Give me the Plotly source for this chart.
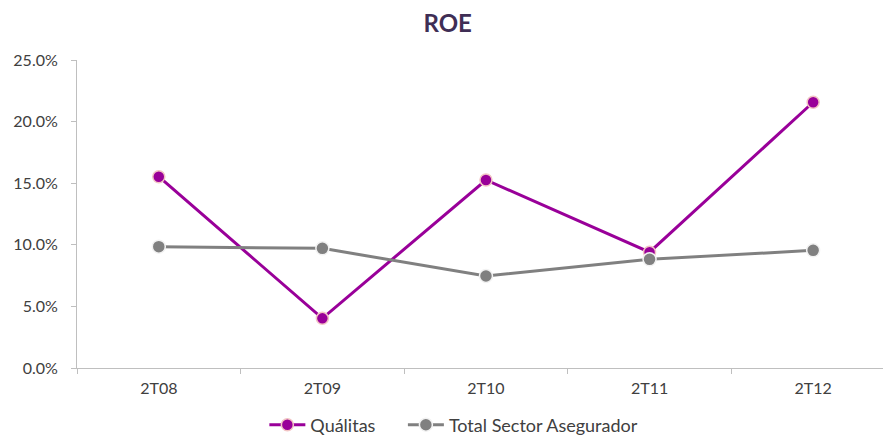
import plotly.graph_objects as go

categories = ["2T08", "2T09", "2T10", "2T11", "2T12"]
qualitas = [15.53, 4.03, 15.26, 9.40, 21.57]
sector = [9.85, 9.71, 7.47, 8.82, 9.55]
y_ticks = [0, 5, 10, 15, 20, 25]
y_tick_labels = ["0.0%", "5.0%", "10.0%", "15.0%", "20.0%", "25.0%"]
series_names = ["Quálitas", "Total Sector Asegurador"]

font = "Lato, 'Open Sans', sans-serif"

fig = go.Figure()
fig.add_trace(go.Scatter(
    x=categories, y=qualitas, name=series_names[0] + "\u2003\u2002", mode="lines+markers",
    line=dict(color="#990099", width=3),
    marker=dict(size=12, color="#990099", line=dict(color="#F2C4C4", width=1.5)),
))
fig.add_trace(go.Scatter(
    x=categories, y=sector, name=series_names[1], mode="lines+markers",
    line=dict(color="#808080", width=3),
    marker=dict(size=13, color="#808080", line=dict(color="#F2F2F2", width=1.5)),
))

fig.update_layout(
    width=883, height=435,
    margin=dict(l=77, r=0, t=60, b=67),
    paper_bgcolor="white", plot_bgcolor="white",
    font=dict(family=font, size=16, color="#404040"),
    title=dict(text="<b>ROE</b>", x=0.507, xref="container", xanchor="center",
               y=0.945, yref="container", yanchor="middle",
               font=dict(family=font, size=24, color="#3F2E55")),
    showlegend=True,
    legend=dict(orientation="h", x=0.514, xref="container", xanchor="center",
                y=0.023, yref="container", yanchor="middle",
                font=dict(size=18, color="#404040"), itemwidth=36,
                traceorder="normal", tracegroupgap=0),
    xaxis=dict(type="category", range=[-0.5, 4.427], showgrid=False,
               showline=True, linecolor="#BFBFBF", linewidth=1,
               ticks="outside", tickson="boundaries", ticklen=5, tickcolor="#BFBFBF",
               ticklabelstandoff=6,
               tickfont=dict(size=16, color="#404040"), zeroline=False),
    yaxis=dict(range=[0, 25], tickvals=y_ticks, ticktext=y_tick_labels,
               showgrid=False, showline=True, linecolor="#BFBFBF", linewidth=1,
               ticks="outside", ticklen=5, tickcolor="#BFBFBF",
               ticklabelstandoff=10,
               tickfont=dict(size=16, color="#404040"), zeroline=False),
)

fig.write_html("out.html", config={"displayModeBar": False},
               post_script="document.body.style.margin='0';")
